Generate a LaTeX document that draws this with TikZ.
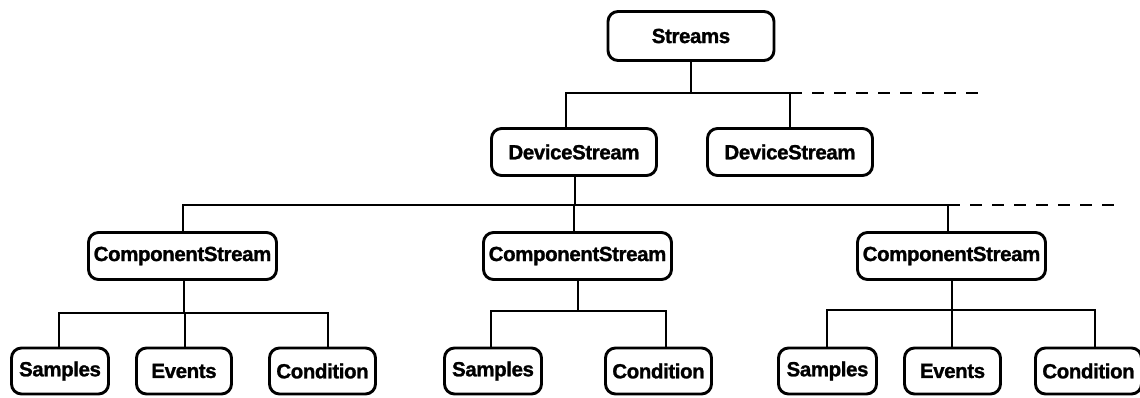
\documentclass[tikz,border=0pt]{standalone}
\usepackage{fontspec}
\setmainfont{Liberation Sans}
\newfontfamily\labelfont[FakeBold=1.2, LetterSpace=-2]{Liberation Sans Bold}
\begin{document}
\begin{tikzpicture}[x=1pt,y=-1pt,
  box/.style={draw, line width=2.9pt, rounded corners=10pt, fill=white,
    inner sep=0pt, align=center, font=\fontsize{20.5}{21}\labelfont},
  topbox/.style={box, minimum width=166pt, minimum height=49pt},
  devbox/.style={box, minimum width=165pt, minimum height=47pt},
  compbox/.style={box, minimum width=188pt, minimum height=47pt},
  leafbox/.style={box, minimum height=46pt},
  conn/.style={line width=2.9pt},
  cont/.style={line width=2.9pt, dash pattern=on 12pt off 10pt}]
\useasboundingbox (0,0) rectangle (1140,397);

% tree nodes
\node[topbox] (streams) at (691,36) {Streams};
\node[devbox] (dev1) at (574,152) {DeviceStream};
\node[devbox] (dev2) at (790,152) {DeviceStream};
\node[compbox] (cs1) at (182.5,256) {ComponentStream};
\node[compbox] (cs2) at (577.5,256) {ComponentStream};
\node[compbox] (cs3) at (951.5,256) {ComponentStream};

\node[leafbox, minimum width=97pt] (s1) at (60,371) {Samples};
\node[leafbox, minimum width=95pt] (e1) at (184,371) {Events};
\node[leafbox, minimum width=106pt] (c1) at (322.5,371) {Condition};
\node[leafbox, minimum width=97pt] (s2) at (493,371) {Samples};
\node[leafbox, minimum width=106pt] (c2) at (658.5,371) {Condition};
\node[leafbox, minimum width=98pt] (s3) at (827.5,371) {Samples};
\node[leafbox, minimum width=96pt] (e3) at (952.5,371) {Events};
\node[leafbox, minimum width=106pt] (c3) at (1088.5,371) {Condition};

% bus end points
\coordinate (b0) at (691,93);
\coordinate (b0l) at (566,93);
\coordinate (b0r) at (790,93);
\coordinate (d0) at (978,93);

\coordinate (b1) at (575,205);
\coordinate (b1l) at (183,205);
\coordinate (b1m) at (574,205);
\coordinate (b1r) at (948,205);
\coordinate (d1) at (1123,205);

\coordinate (b2) at (184,313);
\coordinate (b2l) at (59,313);
\coordinate (b2m) at (185,313);
\coordinate (b2r) at (328,313);

\coordinate (b3) at (578,311);
\coordinate (b3l) at (491,311);
\coordinate (b3r) at (666,311);

\coordinate (b4) at (952,310);
\coordinate (b4l) at (827,310);
\coordinate (b4m) at (952,310);
\coordinate (b4r) at (1095,310);

% Streams -> DeviceStream
\draw[conn] (b0 |- streams.south) -- (b0);
\draw[conn] (b0l |- dev1.north) -- (b0l) -- (b0r) -- (b0r |- dev2.north);
\draw[cont] (b0r) -- (d0);

% DeviceStream -> ComponentStream
\draw[conn] (b1 |- dev1.south) -- (b1);
\draw[conn] (b1l |- cs1.north) -- (b1l) -- (b1r) -- (b1r |- cs3.north);
\draw[conn] (b1m) -- (b1m |- cs2.north);
\draw[cont] (b1r) -- (d1);

% ComponentStream -> leaves, first group
\draw[conn] (b2 |- cs1.south) -- (b2);
\draw[conn] (b2l |- s1.north) -- (b2l) -- (b2r) -- (b2r |- c1.north);
\draw[conn] (b2m) -- (b2m |- e1.north);

% second group
\draw[conn] (b3 |- cs2.south) -- (b3);
\draw[conn] (b3l |- s2.north) -- (b3l) -- (b3r) -- (b3r |- c2.north);

% third group
\draw[conn] (b4 |- cs3.south) -- (b4);
\draw[conn] (b4l |- s3.north) -- (b4l) -- (b4r) -- (b4r |- c3.north);
\draw[conn] (b4m) -- (b4m |- e3.north);
\end{tikzpicture}
\end{document}
